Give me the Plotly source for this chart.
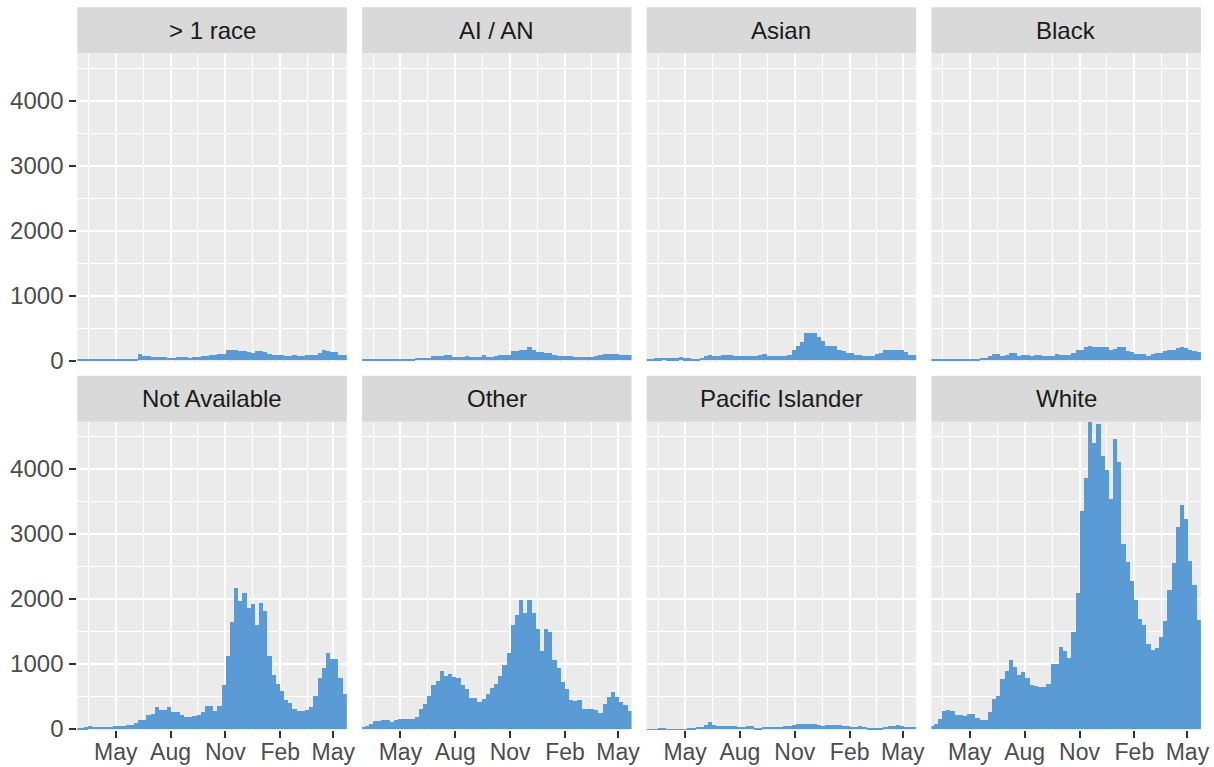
import pandas as pd
import plotly.graph_objects as go

# ---------------- data ----------------
bin_start = "2020-02-24"
n_weeks = 65
week_starts = pd.date_range(bin_start, periods=n_weeks, freq="7D")

facet_names = ["> 1 race", "AI / AN", "Asian", "Black",
               "Not Available", "Other", "Pacific Islander", "White"]

multi_race = [15, 15, 20, 25, 25, 25, 25, 15, 15, 15, 15, 15, 15, 20, 25, 100, 60, 60, 50, 55,
              55, 50, 35, 35, 45, 50, 50, 35, 45, 45, 70, 70, 75, 75, 95, 95, 150, 160, 160, 140,
              140, 130, 110, 140, 140, 120, 100, 80, 80, 80, 70, 70, 75, 65, 65, 80, 80, 80, 110, 155,
              140, 130, 130, 85, 85]
ai_an = [8, 8, 8, 8, 8, 8, 10, 20, 20, 20, 20, 15, 15, 35, 35, 35, 35, 70, 60, 60,
         85, 85, 55, 55, 55, 70, 55, 50, 50, 75, 50, 50, 60, 80, 80, 80, 140, 140, 160, 160,
         205, 160, 130, 130, 110, 110, 80, 70, 70, 70, 65, 55, 55, 55, 45, 45, 60, 85, 100, 100,
         95, 95, 80, 80, 80]
asian = [15, 15, 30, 30, 40, 30, 30, 30, 50, 30, 30, 20, 20, 35, 60, 80, 70, 70, 75, 85,
         85, 70, 70, 70, 70, 70, 60, 75, 90, 70, 70, 60, 65, 65, 80, 150, 220, 275, 420, 420,
         425, 355, 300, 225, 215, 215, 150, 140, 115, 115, 80, 80, 70, 65, 65, 90, 105, 165, 165, 160,
         165, 155, 125, 75, 75]
black = [15, 15, 15, 15, 25, 25, 25, 25, 25, 25, 25, 25, 35, 35, 60, 100, 100, 70, 75, 110,
         110, 70, 75, 75, 70, 80, 80, 65, 65, 65, 95, 80, 80, 80, 110, 160, 160, 200, 220, 210,
         210, 205, 205, 155, 180, 210, 210, 135, 125, 100, 100, 100, 60, 95, 110, 110, 135, 155, 155, 185,
         210, 195, 160, 135, 125]
not_available = [25, 25, 30, 51, 40, 36, 36, 41, 41, 51, 51, 51, 72, 72, 103, 138, 149, 215, 231, 338,
                 292, 292, 344, 262, 267, 226, 190, 195, 205, 215, 267, 359, 364, 282, 364, 677, 1133, 1651, 2179, 1969,
                 2103, 1872, 1923, 1600, 1944, 1815, 1133, 831, 703, 585, 446, 405, 308, 282, 282, 290, 344, 508, 795, 949,
                 1179, 1077, 1077, 790, 544]
other = [38, 54, 79, 126, 126, 136, 136, 115, 136, 156, 156, 156, 156, 182, 320, 397, 515, 677, 746, 905,
         823, 849, 800, 792, 677, 618, 485, 485, 413, 464, 541, 638, 705, 823, 987, 1167, 1603, 1756, 1997, 1782,
         1987, 1792, 1536, 1208, 1551, 1500, 1064, 936, 731, 618, 449, 438, 449, 320, 320, 310, 295, 254, 397, 490,
         567, 490, 413, 372, 279]
pacific_islander = [5, 5, 5, 20, 20, 5, 5, 5, 5, 5, 20, 20, 35, 35, 65, 108, 72, 57, 57, 46,
                    46, 46, 41, 41, 52, 52, 26, 26, 41, 41, 41, 41, 41, 46, 46, 67, 88, 88, 88, 77,
                    77, 67, 57, 62, 62, 67, 67, 46, 46, 41, 41, 46, 36, 26, 26, 26, 26, 36, 46, 46,
                    67, 46, 31, 31, 31]
white = [50, 75, 160, 280, 300, 280, 218, 228, 203, 233, 243, 172, 151, 151, 269, 474, 520, 777, 890, 1059,
         957, 833, 879, 782, 680, 669, 644, 650, 690, 1003, 1003, 1259, 1208, 1100, 1500, 2095, 3356, 3869, 4728, 4408,
         4705, 4203, 3982, 3546, 4459, 4110, 2854, 2577, 2279, 1997, 1700, 1603, 1315, 1213, 1249, 1418, 1664, 2151, 2562, 3110,
         3444, 3240, 2587, 2218, 1679]

series = [multi_race, ai_an, asian, black, not_available, other, pacific_islander, white]

y_ticks = [0, 1000, 2000, 3000, 4000]
y_minor = [500, 1500, 2500, 3500, 4500]
x_ticks = ["2020-05-01", "2020-08-01", "2020-11-01", "2021-02-01", "2021-05-01"]
x_tick_labels = ["May", "Aug", "Nov", "Feb", "May"]
x_minor = ["2020-03-17", "2020-06-16", "2020-09-16", "2020-12-17", "2021-03-18"]
x_range = ["2020-02-26 14:00", "2021-05-23 14:00"]

# ---------------- style / layout ----------------
W, H = 1214, 767
BAR = "#5B9BD5"
PANEL = "#EBEBEB"
STRIP = "#D9D9D9"
FONT = "Liberation Sans, Arial, sans-serif"
FS = 24
FS_X = 23

col_left0 = 77.3
col_step = 284.7
col_w = 269.5
rows_px = [(53.3, 361.5), (421.7, 730.0)]
strip_h = 46.0

y_max = max(max(s) for s in series)
week_ms = 7 * 24 * 3600 * 1000

fig = go.Figure()
layout = dict(
    width=W, height=H,
    margin=dict(l=0, r=0, t=0, b=0, autoexpand=False),
    paper_bgcolor="white", plot_bgcolor=PANEL,
    showlegend=False, bargap=0,
    font=dict(family=FONT, size=FS, color="#4D4D4D"),
)
shapes, annotations = [], []

for k, (name, vals) in enumerate(zip(facet_names, series)):
    r, c = divmod(k, 4)
    ax = "" if k == 0 else str(k + 1)
    fig.add_trace(go.Bar(
        x=week_starts, y=vals, width=week_ms, offset=0,
        marker=dict(color=BAR, line=dict(width=0)),
        xaxis="x" + ax, yaxis="y" + ax, hoverinfo="x+y",
    ))
    x0 = (col_left0 + c * col_step) / W
    x1 = (col_left0 + c * col_step + col_w) / W
    top, bot = rows_px[r]
    y0 = 1 - bot / H
    y1 = 1 - top / H
    bottom_row = r == 1
    left_col = c == 0
    layout["xaxis" + ax] = dict(
        domain=[x0, x1], anchor="y" + ax, type="date", range=x_range,
        tickvals=x_ticks, ticktext=x_tick_labels,
        showticklabels=bottom_row,
        ticks="outside" if bottom_row else "", ticklen=7, tickwidth=2, tickcolor="#333333",
        showgrid=True, gridcolor="white", gridwidth=2,
        minor=dict(tickvals=x_minor, showgrid=True, gridcolor="white", gridwidth=1, ticks=""),
        zeroline=False, showline=False, fixedrange=True,
        tickfont=dict(family=FONT, size=FS_X, color="#4D4D4D"),
        ticklabelstandoff=-6,
    )
    layout["yaxis" + ax] = dict(
        domain=[y0, y1], anchor="x" + ax, range=[-15, y_max],
        tickvals=y_ticks, ticktext=[str(v) for v in y_ticks],
        showticklabels=left_col,
        ticks="outside" if left_col else "", ticklen=7, tickwidth=2, tickcolor="#333333",
        showgrid=True, gridcolor="white", gridwidth=2,
        minor=dict(tickvals=y_minor, showgrid=True, gridcolor="white", gridwidth=1, ticks=""),
        zeroline=False, showline=False, fixedrange=True,
        tickfont=dict(family=FONT, size=FS, color="#4D4D4D"),
        ticklabelstandoff=1,
    )
    panel_h = bot - top
    shapes.append(dict(
        type="rect", xref=f"x{ax} domain", yref=f"y{ax} domain",
        x0=0, x1=1, y0=1, y1=1 + strip_h / panel_h,
        fillcolor=STRIP, line=dict(width=0), layer="above",
    ))
    annotations.append(dict(
        text=name, xref=f"x{ax} domain", yref=f"y{ax} domain",
        x=0.5, y=1 + strip_h / 2 / panel_h, xanchor="center", yanchor="middle",
        showarrow=False, font=dict(family=FONT, size=FS, color="#1A1A1A"),
    ))

layout["shapes"] = shapes
layout["annotations"] = annotations
fig.update_layout(**layout)
fig.write_html(
    "out.html",
    config={"displayModeBar": False},
    post_script="document.body.style.margin='0px';document.body.style.overflow='hidden';",
)
